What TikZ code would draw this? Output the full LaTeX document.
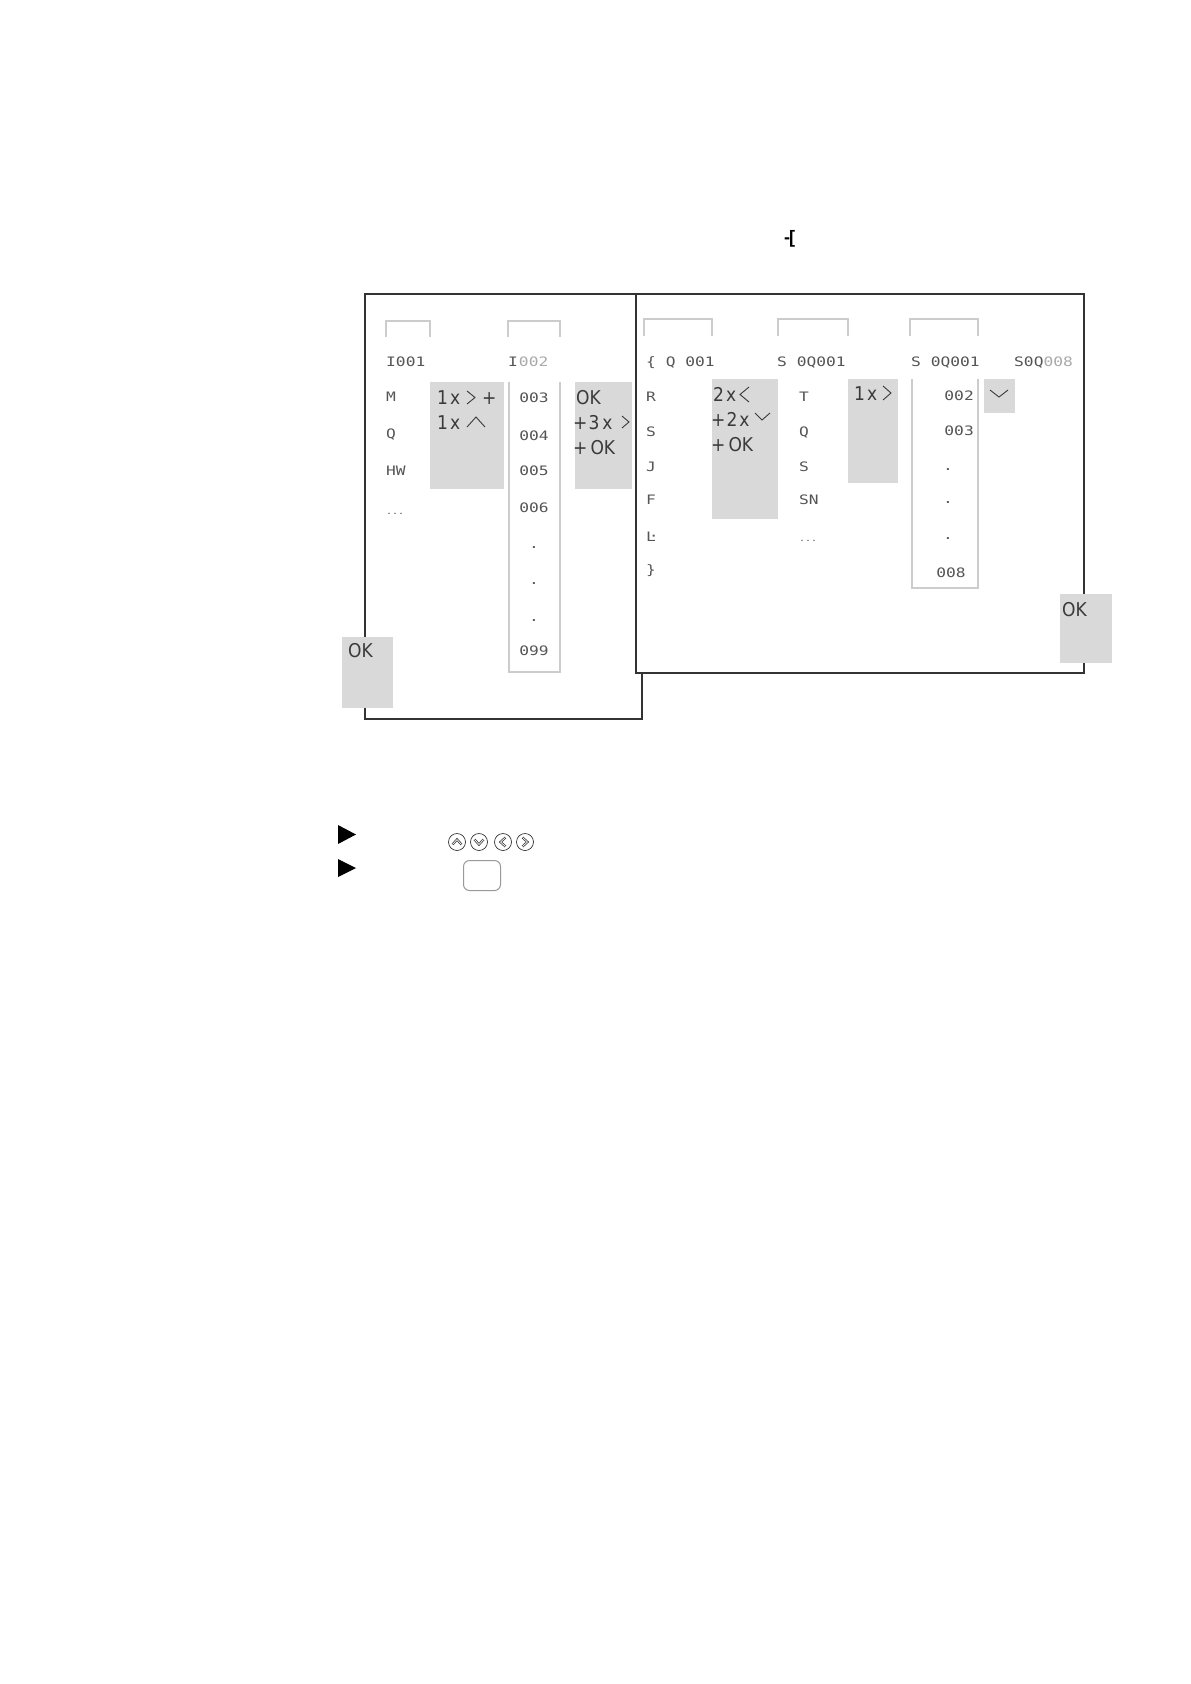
\documentclass[tikz,border=0pt]{standalone}
\usepackage{fontspec}
\setmainfont{DejaVu Sans Condensed}
\newfontfamily\lcd{DejaVu Sans Mono}[FakeStretch=1.25]
\newfontfamily\symf{Liberation Sans}
\definecolor{boxgray}{HTML}{D9D9D9}
\definecolor{tabgray}{HTML}{CCCCCC}
\definecolor{lcdcol}{HTML}{555555}
\definecolor{lcdlight}{HTML}{AAAAAA}
\definecolor{lblcol}{HTML}{3A3A3A}
\definecolor{framecol}{HTML}{333333}
\begin{document}
\begin{tikzpicture}[x=1pt,y=-1pt,
  frame/.style={draw=framecol, line width=1.1pt},
  graybox/.style={fill=boxgray, draw=none, inner sep=0pt, anchor=north west},
  tabline/.style={draw=tabgray, line width=1.6pt},
  lcdtxt/.style={font=\lcd\fontsize{13}{13}\selectfont, text=lcdcol, inner sep=0pt, anchor=west, text height=9.5pt, text depth=0pt},
  lbl/.style={font=\fontsize{19}{19}\selectfont, text=lblcol, inner sep=0pt, anchor=west, text height=14pt, text depth=0pt},
  chev/.style={draw=lblcol, line width=0.9pt, line join=miter},
  tri/.style={fill=black, draw=none},
  keycirc/.style={draw=framecol, line width=0.7pt, fill=white}
]
\useasboundingbox (0,0) rectangle (1191,1684);

% top symbol
\node[font=\symf\bfseries\fontsize{18}{18}\selectfont, inner sep=0pt, anchor=west] (sym) at (784,239) {-\kern-1.2pt[};

% frames
\path[frame] (365,294) rectangle (642,719);
\path[frame, fill=white] (636,294) rectangle (1084,673);

% tabs (open bottom)
\draw[tabline] (386,337) -- (386,321) -- (430,321) -- (430,337);
\draw[tabline] (508,337) -- (508,321) -- (560,321) -- (560,337);
\draw[tabline] (644,336) -- (644,319) -- (712,319) -- (712,336);
\draw[tabline] (778,336) -- (778,319) -- (848,319) -- (848,336);
\draw[tabline] (910,336) -- (910,319) -- (978,319) -- (978,336);

% list boxes (open top)
\draw[tabline] (509,382) -- (509,672) -- (560,672) -- (560,382);
\draw[tabline] (912,379) -- (912,588) -- (978,588) -- (978,379);

% gray boxes
\node[graybox, minimum width=74pt, minimum height=107pt] (b1) at (430,382) {};
\node[graybox, minimum width=57pt, minimum height=107pt] (b2) at (575,382) {};
\node[graybox, minimum width=66pt, minimum height=140pt] (b3) at (712,379) {};
\node[graybox, minimum width=50pt, minimum height=104pt] (b4) at (848,379) {};
\node[graybox, minimum width=31pt, minimum height=34pt] (b5) at (984,379) {};

% left frame LCD texts
\node[lcdtxt] (l1) at (386,362) {I001};
\node[lcdtxt] (l2) at (386,397) {M};
\node[lcdtxt] (l3) at (386,434) {Q};
\node[lcdtxt] (l4) at (386,471) {HW};
\node[lcdtxt, font=\lcd\fontsize{8}{8}\selectfont] (l5) at (386,510) {...};

\node[lcdtxt] (m1) at (508,362) {I\kern1pt\textcolor{lcdlight}{002}};
\node[lcdtxt, anchor=center] (m2) at (534,398) {003};
\node[lcdtxt, anchor=center] (m3) at (534,436) {004};
\node[lcdtxt, anchor=center] (m4) at (534,471) {005};
\node[lcdtxt, anchor=center] (m5) at (534,508) {006};
\node[lcdtxt, anchor=center, text height=3pt] (m6) at (534,547) {.};
\node[lcdtxt, anchor=center, text height=3pt] (m7) at (534,583) {.};
\node[lcdtxt, anchor=center, text height=3pt] (m8) at (534,620) {.};
\node[lcdtxt, anchor=center] (m9) at (534,651) {099};

% right frame col A
\node[lcdtxt] (a1) at (646,362) {\{ Q 001};
\node[lcdtxt] (a2) at (646,397) {R};
\node[lcdtxt] (a3) at (646,432) {S};
\node[lcdtxt] (a4) at (646,467) {J};
\node[lcdtxt] (a5) at (646,500) {F};
\node[lcdtxt] (a6) at (646,537) {Ŀ};
\node[lcdtxt] (a7) at (646,570) {\}};

% col B
\node[lcdtxt] (c1) at (777,362) {S 0Q001};
\node[lcdtxt] (c2) at (799,397) {T};
\node[lcdtxt] (c3) at (799,432) {Q};
\node[lcdtxt] (c4) at (799,467) {S};
\node[lcdtxt] (c5) at (799,500) {SN};
\node[lcdtxt, font=\lcd\fontsize{8}{8}\selectfont] (c6) at (799,537) {...};

% col C
\node[lcdtxt] (d1) at (911,362) {S 0Q001};
\node[lcdtxt, anchor=east] (d2) at (974,396) {002};
\node[lcdtxt, anchor=east] (d3) at (974,431) {003};
\node[lcdtxt, anchor=center, text height=3pt] (d4) at (948,469) {.};
\node[lcdtxt, anchor=center, text height=3pt] (d5) at (948,502) {.};
\node[lcdtxt, anchor=center, text height=3pt] (d6) at (948,538) {.};
\node[lcdtxt, anchor=center] (d7) at (951,573) {008};

% col D
\node[lcdtxt] (e1) at (1014,362) {S0Q\textcolor{lcdlight}{008}};

% box labels
\node[lbl] (t1a) at (437,397) {1\kern2pt x};
\draw[chev] (467,391) -- (475,397.5) -- (467,404);
\node[lbl] (t1b) at (482,397) {+};
\node[lbl] (t1c) at (437,422) {1\kern2pt x};
\draw[chev] (467,427) -- (476,417) -- (485,427);

\node[lbl] (t2a) at (576,397) {OK};
\node[lbl] (t2b) at (573,422) {+\kern1pt 3\kern3pt x};
\draw[chev] (622,416) -- (629,422) -- (622,428);
\node[lbl] (t2c) at (573,447) {+\kern3pt OK};

\node[lbl] (t3a) at (713,394) {2\kern2pt x};
\draw[chev] (749,387) -- (740,394.5) -- (749,402);
\node[lbl] (t3b) at (711,419) {+\kern1pt 2\kern2pt x};
\draw[chev] (755,413) -- (762,420) -- (770,413);
\node[lbl] (t3c) at (711,444) {+\kern3pt OK};

\node[lbl] (t4a) at (854,393) {1\kern2pt x};
\draw[chev] (883,386) -- (891,393) -- (883,400);

\draw[chev] (990,390) -- (999,397) -- (1008,390);

% OK boxes
\node[graybox, minimum width=51pt, minimum height=71pt] (okL) at (342,637) {};
\node[lbl] (okLt) at (348,650) {OK};
\node[graybox, minimum width=52pt, minimum height=69pt] (okR) at (1060,594) {};
\node[lbl] (okRt) at (1062,609) {OK};

% bottom bullets
\path[tri] (338,825) -- (356,834.5) -- (338,844) -- cycle;
\path[tri] (338,859) -- (356,868) -- (338,877) -- cycle;

% key circles
\node[keycirc, circle, minimum size=17pt, inner sep=0pt] (kU) at (457,842) {};
\node[keycirc, circle, minimum size=17pt, inner sep=0pt] (kD) at (479,842) {};
\node[keycirc, circle, minimum size=17pt, inner sep=0pt] (kL) at (503,842) {};
\node[keycirc, circle, minimum size=17pt, inner sep=0pt] (kR) at (525,842) {};
\foreach \w/\c in {2.2pt/framecol, 0.7pt/white}{
  \draw[line width=\w, draw=\c] (452.5,844.5) -- (457,839.5) -- (461.5,844.5);
  \draw[line width=\w, draw=\c] (474.5,839.5) -- (479,844.5) -- (483.5,839.5);
  \draw[line width=\w, draw=\c] (505.5,837.5) -- (500.5,842) -- (505.5,846.5);
  \draw[line width=\w, draw=\c] (522.5,837.5) -- (527.5,842) -- (522.5,846.5);
}
\node[draw=black!40, line width=1pt, rounded corners=6pt, minimum width=37pt, minimum height=30pt, inner sep=0pt, anchor=north west] (okkey) at (463,860) {};
\end{tikzpicture}
\end{document}
